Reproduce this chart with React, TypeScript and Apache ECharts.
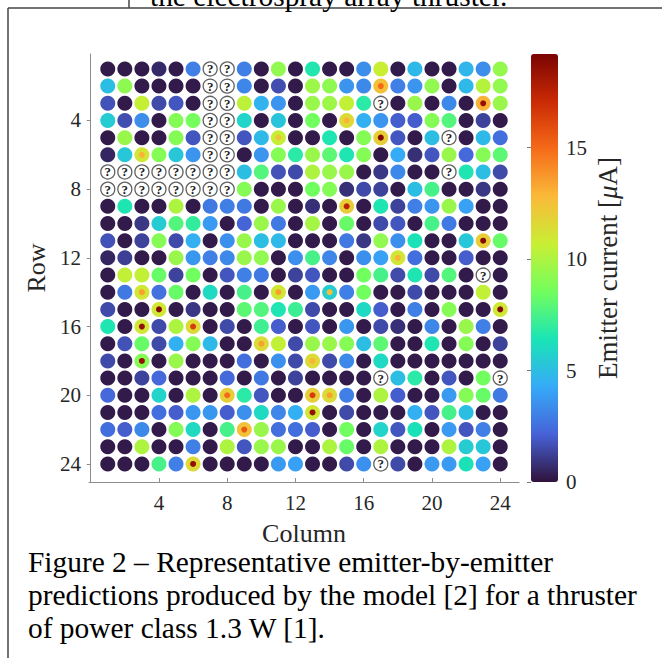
import React, { useEffect, useRef } from "react";
import * as echarts from "echarts";

const n = null;

// Emitter current [μA] per row (rows 1..24), columns 1..24; null = unknown emitter ("?")
const currents: (number | null)[][] = [
  [0.2, 0.2, 0.2, 0.6, 0.2, 3.0, n, n, 3.0, 0.2, 9.3, 0.2, 6.6, 0.2, 0.2, 3.4, 10.7, 0.2, 4.8, 0.2, 0.2, 4.7, 3.4, 9.4],
  [5.0, 9.2, 0.2, 0.2, 0.2, 0.2, n, n, 3.2, 0.2, 1.6, 0.2, 9.6, 9.2, 3.6, 3.3, 12.5, 3.0, 3.6, 9.3, 0.2, 4.8, 10.2, 9.3],
  [1.7, 0.2, 10.6, 1.5, 1.8, 0.2, n, n, 10.4, 4.6, 3.6, 0.2, 9.5, 9.6, 10.5, 6.8, n, 0.2, 9.5, 0.2, 3.3, 0.2, 13.0, 9.5],
  [5.5, 1.6, 3.4, 0.2, 9.0, 8.6, n, n, 5.8, 0.2, 5.2, 0.2, 8.5, 0.2, 11.5, 4.5, 3.6, 2.0, 2.0, 9.0, 7.8, 0.2, 1.3, 0.2],
  [0.2, 9.5, 0.2, 0.2, 9.0, 1.8, n, n, 1.8, 4.8, 10.6, 0.2, 0.2, 6.5, 0.2, 9.0, 12.0, 1.8, 0.2, 5.0, n, 0.2, 4.8, 2.5],
  [0.5, 5.3, 11.0, 9.0, 5.3, 3.6, n, n, 0.2, 3.6, 9.0, 6.8, 9.5, 8.0, 6.5, 9.0, 0.2, 4.3, 0.8, 1.8, 9.5, 2.3, 9.0, 8.0],
  [n, n, n, n, n, n, n, n, 5.0, 7.8, 1.7, 1.5, 10.0, 9.5, 9.5, 0.2, 1.0, 3.3, 0.2, 0.2, n, 6.5, 5.0, 1.5],
  [n, n, n, n, n, n, n, n, 9.0, 0.2, 0.2, 0.2, 8.5, 9.0, 0.8, 1.5, 1.3, 0.2, 5.0, 7.5, 0.2, 0.2, 1.0, 0.2],
  [0.2, 6.5, 0.2, 0.2, 10.0, 0.2, 2.8, 3.0, 2.8, 0.2, 9.5, 0.2, 0.8, 0.2, 12.0, 0.2, 6.5, 1.3, 3.0, 3.6, 9.5, 4.0, 0.2, 0.2],
  [0.2, 0.2, 1.0, 5.5, 7.8, 7.0, 3.8, 0.2, 2.2, 9.5, 2.8, 0.2, 9.8, 0.2, 8.3, 0.2, 1.5, 1.8, 0.2, 7.5, 2.8, 0.2, 0.2, 0.2],
  [1.7, 0.2, 1.3, 9.0, 1.5, 4.5, 0.2, 3.5, 9.5, 5.0, 4.8, 0.2, 0.2, 0.2, 2.8, 1.0, 9.3, 3.5, 6.3, 0.2, 0.2, 5.3, 12.0, 8.3],
  [0.5, 1.2, 0.2, 0.2, 9.5, 3.7, 3.0, 3.3, 9.5, 9.3, 0.2, 3.5, 7.5, 3.2, 0.2, 3.5, 4.0, 11.0, 2.5, 0.2, 0.2, 2.0, 0.2, 0.2],
  [0.2, 10.5, 10.5, 8.3, 1.3, 8.5, 0.2, 1.8, 3.0, 2.8, 0.2, 1.3, 1.8, 0.2, 0.2, 8.5, 7.5, 1.5, 6.5, 1.5, 7.8, 0.2, n, 0.2],
  [0.2, 2.8, 11.0, 2.6, 8.3, 0.2, 6.0, 0.2, 7.5, 0.2, 11.0, 0.2, 3.8, 5.5, 3.0, 8.5, 0.2, 0.2, 1.5, 0.2, 0.2, 0.2, 10.5, 0.2],
  [1.5, 0.2, 0.2, 11.0, 0.2, 1.0, 0.2, 0.2, 8.0, 7.8, 6.5, 7.2, 1.5, 0.2, 0.2, 6.0, 2.0, 0.2, 3.0, 0.2, 9.0, 0.2, 0.2, 11.0],
  [6.5, 0.2, 11.0, 1.5, 10.0, 11.5, 0.2, 1.5, 0.2, 7.3, 2.0, 0.2, 1.8, 0.2, 3.7, 0.2, 1.5, 0.8, 0.2, 3.2, 0.2, 9.5, 3.0, 0.2],
  [0.2, 1.7, 8.3, 1.5, 4.5, 9.0, 4.8, 0.2, 0.2, 11.5, 10.5, 1.5, 9.5, 9.5, 9.0, 5.0, 8.0, 0.2, 0.2, 6.5, 0.2, 9.0, 0.2, 1.3],
  [1.5, 0.2, 9.0, 0.2, 9.5, 0.2, 0.2, 0.2, 2.5, 0.2, 3.5, 1.5, 11.5, 1.5, 3.3, 0.2, 6.0, 0.2, 0.2, 0.2, 0.2, 0.2, 0.2, 0.2],
  [0.2, 0.2, 1.3, 2.3, 0.2, 0.2, 0.2, 2.3, 0.2, 2.8, 0.2, 1.3, 0.2, 0.2, 0.2, 0.2, n, 5.0, 6.8, 0.2, 1.8, 0.2, 8.5, n],
  [2.3, 0.2, 0.2, 5.8, 0.2, 10.0, 0.2, 12.0, 6.8, 1.8, 0.2, 0.2, 12.0, 11.5, 3.0, 0.2, 10.0, 2.0, 0.2, 0.2, 3.8, 9.0, 8.3, 2.8],
  [0.2, 0.2, 0.2, 2.5, 2.0, 3.7, 3.7, 2.0, 3.5, 6.0, 3.2, 4.5, 11.0, 0.2, 1.5, 0.2, 0.2, 0.2, 4.5, 1.8, 7.5, 5.0, 0.2, 0.2],
  [2.5, 2.0, 3.3, 0.2, 9.0, 6.0, 0.2, 7.5, 12.5, 9.5, 2.5, 2.5, 2.0, 0.2, 8.5, 0.2, 5.8, 1.8, 6.3, 0.2, 3.8, 1.8, 3.0, 0.2],
  [0.2, 0.2, 10.0, 0.2, 0.2, 3.0, 0.2, 10.0, 1.8, 9.5, 9.5, 0.2, 0.2, 10.0, 8.3, 0.2, 10.0, 0.2, 0.2, 0.2, 10.0, 5.5, 5.3, 0.2],
  [0.2, 0.2, 0.2, 7.5, 3.0, 11.5, 0.2, 0.2, 0.2, 0.2, 3.8, 4.0, 0.2, 0.2, 1.5, 3.5, n, 1.5, 0.2, 3.8, 3.8, 6.3, 4.0, 0.2],
];

// Hot emitter cores: [column, row, peak current μA]
const hotSpots: [number, number, number][] = [
  [17, 2, 15], [23, 3, 18.5], [15, 4, 13], [17, 5, 19], [11, 5, 12.5], [3, 6, 13],
  [15, 9, 17.5], [23, 11, 19], [18, 12, 13], [3, 14, 13.5], [11, 14, 13.5], [14, 14, 12.5],
  [4, 15, 19], [24, 15, 19], [3, 16, 18.5], [6, 16, 16.5], [10, 17, 13.5], [3, 18, 18.5],
  [13, 18, 13], [8, 20, 15], [13, 20, 16.5], [14, 20, 13.5], [13, 21, 18.5], [9, 22, 15.5], [6, 24, 18.5],
];

const axisTicks = [4, 8, 12, 16, 20, 24];
const colorbarTicks = [0, 5, 10, 15];
const turbo = ["#30123b", "#4662d7", "#36aaf9", "#1ae4b6", "#72fe5e", "#c8ef34", "#faba39", "#f66b19", "#cb2a04", "#7a0403"];
const headerText = "the electrospray array thruster.";
const captionLines = [
  "Figure 2 \u2013 Representative emitter-by-emitter",
  "predictions produced by the model [2] for a thruster",
  "of power class 1.3 W [1].",
];

const FONT = "'Liberation Serif', 'Times New Roman', serif";

export default function App() {
  const ref = useRef<HTMLDivElement>(null);
  useEffect(() => {
    const chart = echarts.init(ref.current!, null, { renderer: "svg" });
    const dots: number[][] = [];
    const unknown: number[][] = [];
    currents.forEach((row, r) =>
      row.forEach((v, c) => {
        if (v === null) unknown.push([c + 1, r + 1]);
        else dots.push([c + 1, r + 1, v]);
      })
    );
    const axisColor = "#8c8c8c";
    const labelColor = "#262626";
    chart.setOption({
      animation: false,
      backgroundColor: "#fff",
      grid: [
        { left: 89, top: 54, width: 430, height: 428 },
        { left: 531, top: 54, width: 27, height: 428 },
      ],
      xAxis: [
        {
          type: "value", min: -0.1, max: 25.1,
          axisLine: { show: true, lineStyle: { color: axisColor, width: 1 } },
          axisTick: { show: true, inside: true, length: 4, customValues: axisTicks, lineStyle: { color: axisColor } },
          axisLabel: { customValues: axisTicks, fontFamily: FONT, fontSize: 21, color: labelColor, margin: 10 },
          splitLine: { show: false },
          name: "Column", nameLocation: "middle", nameGap: 38,
          nameTextStyle: { fontFamily: FONT, fontSize: 26, color: labelColor },
        },
        { gridIndex: 1, type: "value", min: 0, max: 1, show: false },
      ],
      yAxis: [
        {
          type: "value", inverse: true, min: 0.13, max: 25.05,
          axisLine: { show: true, lineStyle: { color: axisColor, width: 1 } },
          axisTick: { show: true, inside: false, length: 4, customValues: axisTicks, lineStyle: { color: axisColor } },
          axisLabel: { customValues: axisTicks, fontFamily: FONT, fontSize: 21, color: labelColor, margin: 8 },
          splitLine: { show: false },
          name: "Row", nameLocation: "middle", nameRotate: 90, nameGap: 40,
          nameTextStyle: { fontFamily: FONT, fontSize: 26, color: labelColor },
        },
        {
          gridIndex: 1, type: "value", min: 0, max: 19.2, position: "right", z: 10,
          axisLine: { show: false },
          axisTick: { show: true, inside: true, length: 4, customValues: colorbarTicks, lineStyle: { color: "#777" } },
          axisLabel: { customValues: colorbarTicks, fontFamily: FONT, fontSize: 21, color: labelColor, margin: 8 },
          splitLine: { show: false },
          name: "Emitter current [{i|\u03bc}A]", nameLocation: "middle", nameRotate: 90, nameGap: 36,
          nameTextStyle: {
            fontFamily: FONT, fontSize: 27, color: labelColor,
            rich: { i: { fontFamily: FONT, fontSize: 27, fontStyle: "italic", color: labelColor } },
          },
        },
      ],
      visualMap: {
        type: "continuous", min: 0, max: 19.2, dimension: 2, seriesIndex: [0, 1],
        inRange: { color: turbo }, orient: "vertical", left: 531, top: 54,
        itemWidth: 27, itemHeight: 428, calculable: false, hoverLink: false, padding: 0,
      },
      series: [
        { type: "scatter", xAxisIndex: 0, yAxisIndex: 0, data: dots, symbolSize: 15, z: 2, silent: true, itemStyle: { opacity: 1 } },
        { type: "scatter", xAxisIndex: 0, yAxisIndex: 0, data: hotSpots, symbolSize: 6, z: 3, silent: true, itemStyle: { opacity: 1 } },
        {
          type: "scatter", xAxisIndex: 0, yAxisIndex: 0, data: unknown, symbolSize: 14, z: 4, silent: true,
          itemStyle: { color: "#fff", borderColor: "#606060", borderWidth: 1.3, opacity: 1 },
          label: { show: true, formatter: "?", position: "inside", fontFamily: FONT, fontSize: 13, fontWeight: "bold", color: "#222" },
        },
        { type: "scatter", xAxisIndex: 1, yAxisIndex: 1, data: [] },
      ],
      graphic: [
        { type: "line", shape: { x1: 8, y1: 8, x2: 662, y2: 8 }, style: { stroke: "#444", lineWidth: 1.5 } },
        { type: "line", shape: { x1: 8, y1: 8, x2: 8, y2: 658 }, style: { stroke: "#444", lineWidth: 1.5 } },
        { type: "line", shape: { x1: 129, y1: 0, x2: 129, y2: 8 }, style: { stroke: "#444", lineWidth: 1.5 } },
        { type: "text", x: 150, y: -4, style: { text: headerText, fontFamily: FONT, fontSize: 29.4, fill: "#000", verticalAlign: "middle" } },
        ...captionLines.map((t, i) => ({
          type: "text", x: 28, y: 562 + i * 33,
          style: { text: t, fontFamily: FONT, fontSize: 29.4, fill: "#000", verticalAlign: "middle" },
        })),
      ],
    });
    return () => chart.dispose();
  }, []);
  return <div ref={ref} style={{ position: "absolute", left: 0, top: 0, width: 662, height: 658, background: "#fff" }} />;
}
